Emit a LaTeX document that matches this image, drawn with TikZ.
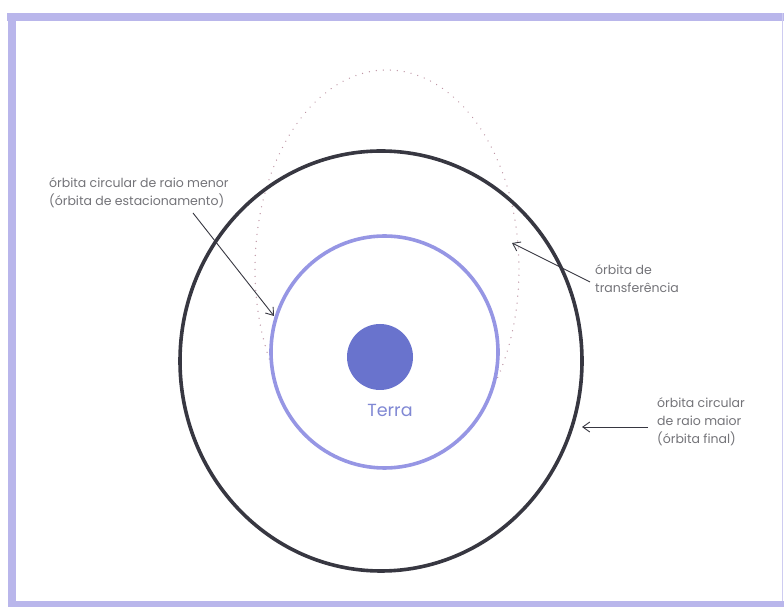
\documentclass[tikz,border=0pt]{standalone}
\usepackage{fontspec}
\setmainfont{Poppins}
\usetikzlibrary{arrows.meta}
\definecolor{framec}{RGB}{185,182,235}
\definecolor{outerc}{RGB}{55,55,65}
\definecolor{innerc}{RGB}{150,150,228}
\definecolor{earthc}{RGB}{105,115,205}
\definecolor{dotc}{RGB}{190,150,165}
\definecolor{txtc}{RGB}{115,115,120}
\tikzset{
  lbl/.style={font=\fontsize{12.5}{18}\selectfont, text=txtc, align=left, inner sep=0pt, anchor=north west},
  ptr/.style={draw=outerc, line width=0.9pt, -{Straight Barb[length=7pt,width=10pt]}},
}
\begin{document}
\begin{tikzpicture}[x=1pt,y=1pt]
\useasboundingbox (0,0) rectangle (784,607);
% frame
\fill[framec] (7,586) rectangle (784,594);
\fill[framec] (8,0) rectangle (16,594);
\fill[framec] (8,0) rectangle (784,6);
\draw[framec!70, line width=1pt] (782,6) -- (782,594);
% transfer orbit
\draw[dotc, line width=1.4pt, dash pattern=on 0.01pt off 7pt, line cap=round] (387,338) ellipse [x radius=132, y radius=199];
% outer orbit
\draw[outerc, line width=3.6pt] (381,246) ellipse [x radius=201, y radius=210];
% inner orbit
\draw[innerc, line width=3.6pt, fill=white] (384.5,255) ellipse [x radius=113.5, y radius=116];
% earth
\node[circle, fill=earthc, minimum size=66pt, inner sep=0pt] (earth) at (380,250) {};
\node[font=\fontsize{17.5}{20}\selectfont, text=earthc!85] (terra) at (390,197) {Terra};
% labels
\node[lbl] (l1) at (49,430) {órbita circular de raio menor\\(órbita de estacionamento)};
\node[lbl] (l2) at (595,343) {órbita de\\transferência};
\node[lbl] (l3) at (657,210) {órbita circular\\de raio maior\\(órbita final)};
% arrow endpoints
\coordinate (a1s) at (193,394);
\coordinate (a1e) at (274,291);
\coordinate (a2s) at (590,325);
\coordinate (a2e) at (512,364);
\coordinate (a3s) at (648,180);
\coordinate (a3e) at (582,180);
\draw[ptr] (a1s) -- (a1e);
\draw[ptr] (a2s) -- (a2e);
\draw[ptr] (a3s) -- (a3e);
\end{tikzpicture}
\end{document}
